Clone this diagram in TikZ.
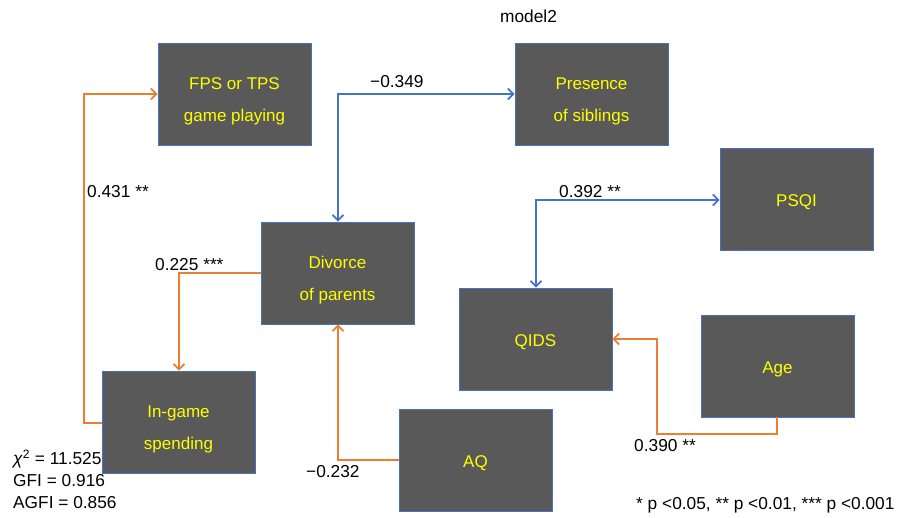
\documentclass[tikz,border=0pt]{standalone}
\usepackage{fontspec}
\setmainfont{Liberation Sans}
\usetikzlibrary{arrows.meta}
\definecolor{boxfill}{HTML}{595959}
\definecolor{boxedge}{HTML}{4472C4}
\definecolor{lorange}{HTML}{ED7D31}
\definecolor{lblue}{HTML}{4472C4}
\definecolor{tyellow}{HTML}{FFFF00}
\begin{document}
\begin{tikzpicture}[x=1pt,y=-1pt,
  varbox/.style={draw=boxedge,line width=0.8pt,fill=boxfill,minimum width=153pt,minimum height=102pt,inner sep=0pt},
  boxtext/.style={text=tyellow,align=center,inner sep=0pt,font=\fontsize{17}{32}\selectfont},
  one/.style={label={[boxtext,yshift=-3pt]center:#1}},
  two/.style={label={[boxtext,yshift=-7pt]center:#1}},
  lbl/.style={font=\fontsize{17.3}{20}\selectfont,inner sep=0pt,anchor=west},
  tip/.style={Straight Barb[length=5.5pt,width=11pt,line width=1.8pt]},
  oarr/.style={draw=lorange,line width=2.2pt,-{Straight Barb[length=5.5pt,width=11pt,line width=1.8pt]}},
  barr/.style={draw=lblue,line width=2.2pt,-{Straight Barb[length=5.5pt,width=11pt,line width=1.8pt]}},
  darr/.style={draw=lblue,line width=2.2pt,{Straight Barb[length=5.5pt,width=11pt,line width=1.8pt]}-{Straight Barb[length=5.5pt,width=11pt,line width=1.8pt]}}]
\useasboundingbox (0,0) rectangle (897,517);
\node[varbox,two={FPS or TPS\\game playing}] (fps) at (234.5,94) {};
\node[varbox,two={Presence\\of siblings}] (sib) at (591.5,94) {};
\node[varbox,one={PSQI}] (psqi) at (796.5,199.5) {};
\node[varbox,two={Divorce\\of parents}] (div) at (337.5,273) {};
\node[varbox,one={QIDS}] (qids) at (535.5,339) {};
\node[varbox,one={Age}] (age) at (777.5,366) {};
\node[varbox,two={In-game\\spending}] (ing) at (178.5,422) {};
\node[varbox,one={AQ}] (aq) at (475.5,460) {};
% connectors
\coordinate (c1) at (84,423);
\coordinate (c2) at (84,94);
\draw[oarr] (ing.west |- c1) -- (c1) -- (c2) -- (fps.west |- c2);
\coordinate (c3) at (179,273);
\draw[oarr] (div.west |- c3) -- (c3) -- (ing.north -| c3);
\coordinate (c4) at (338,94);
\draw[darr] (div.north -| c4) -- (c4) -- (sib.west |- c4);
\coordinate (c5) at (536,200);
\draw[darr] (qids.north -| c5) -- (c5) -- (psqi.west |- c5);
\coordinate (c6) at (338,460);
\draw[oarr] (aq.west |- c6) -- (c6) -- (div.south -| c6);
\coordinate (c7) at (777,434);
\coordinate (c8) at (657,434);
\coordinate (c9) at (657,339);
\draw[oarr] (age.south -| c7) -- (c7) -- (c8) -- (c9) -- (qids.east |- c9);
% labels
\node[lbl] (t0) at (500,16) {model2};
\node[lbl] (t1) at (370,82) {−0.349};
\node[lbl] (t2) at (87,192) {0.431 **};
\node[lbl] (t3) at (155,265) {0.225 ***};
\node[lbl] (t4) at (559,192) {0.392 **};
\node[lbl] (t5) at (306,472) {−0.232};
\node[lbl] (t6) at (634,446) {0.390 **};
\node[lbl] (t7) at (13,459) {\textit{χ}\textsuperscript{2} = 11.525};
\node[lbl] (t8) at (13,481) {GFI = 0.916};
\node[lbl] (t9) at (13,503) {AGFI = 0.856};
\node[lbl] (t10) at (636,505) {* p <0.05, ** p <0.01, *** p <0.001};
\end{tikzpicture}
\end{document}
